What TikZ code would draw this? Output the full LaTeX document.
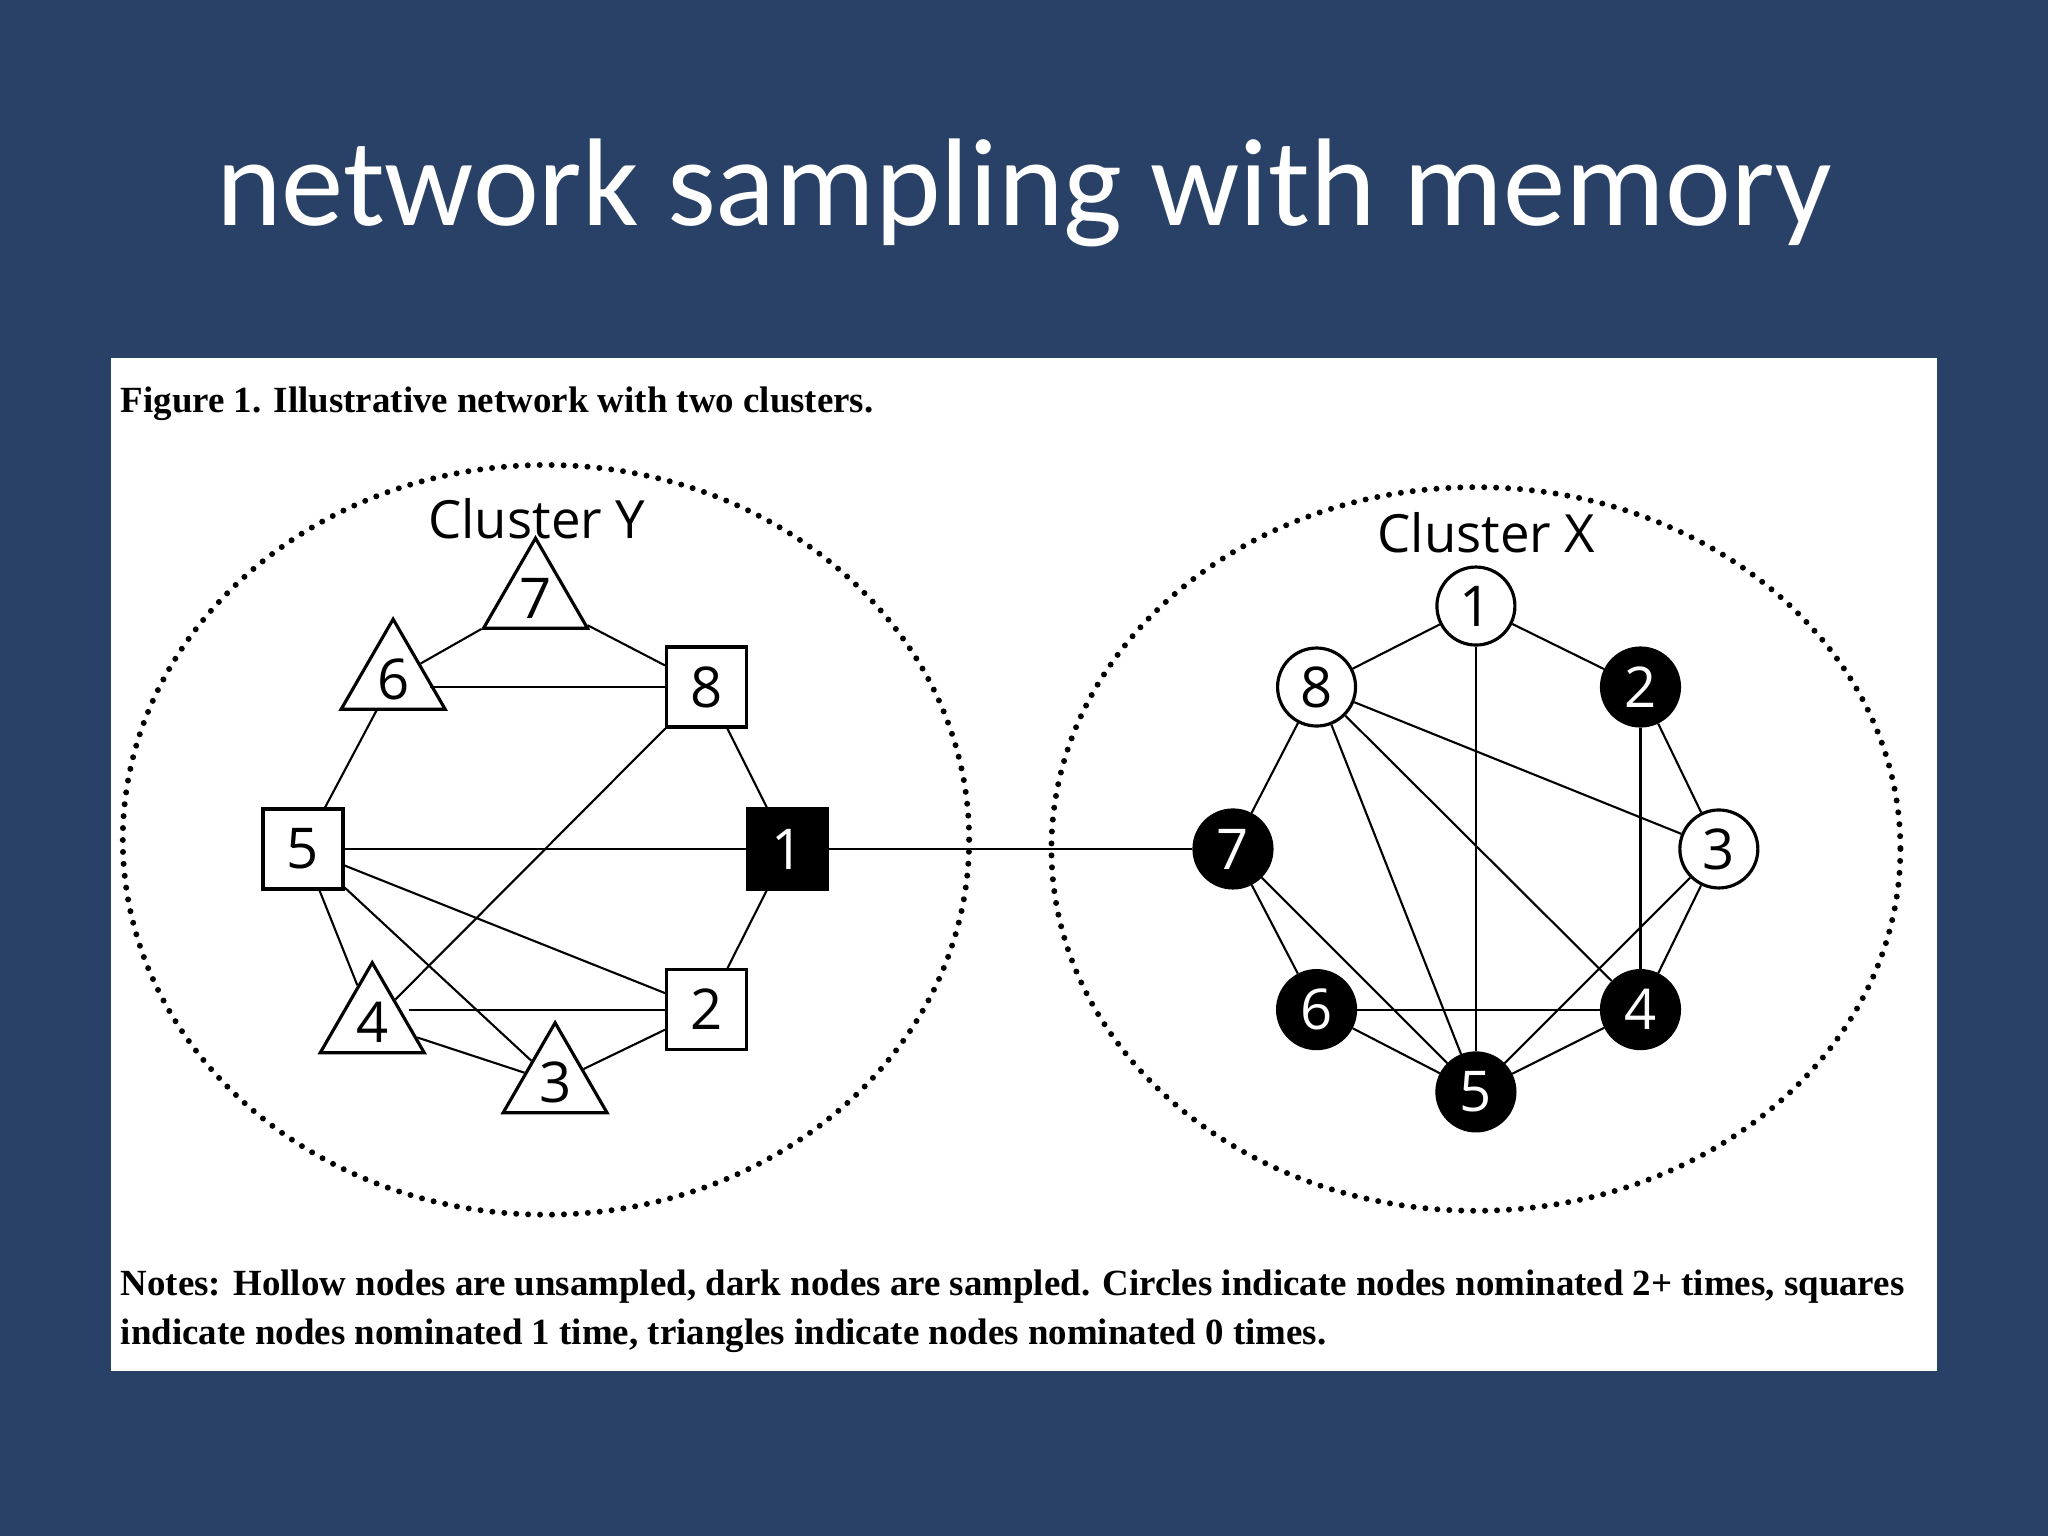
\documentclass[tikz,border=0pt]{standalone}
\usepackage{fontspec}
\setmainfont{Liberation Serif}
\newfontfamily\slidefont{Carlito}
\newfontfamily\labfont{Open Sans}
\usetikzlibrary{shapes.geometric}
\definecolor{slidebg}{RGB}{41,65,102}
\tikzset{
  lab/.style={font=\labfont\fontsize{16}{16}\selectfont, inner sep=0pt},
  tri/.style={lab, draw, line width=0.9pt, regular polygon, regular polygon sides=3, minimum size=1.2cm},
  sq/.style={lab, draw, line width=0.9pt, rectangle, minimum size=0.8cm},
  circ/.style={lab, draw, line width=0.9pt, circle, minimum size=0.78cm},
  dark/.style={fill=black, text=white},
  hollow/.style={fill=white},
  edge/.style={line width=0.6pt},
  cluster/.style={line width=1.7pt, dash pattern=on 0pt off 3.4pt, line cap=round}
}
\begin{document}
\begin{tikzpicture}[x=0.013061cm, y=-0.013061cm]
  \fill[slidebg] (0,0) rectangle (1568,1176);
  \useasboundingbox (0,0) rectangle (1568,1176);
  \node[text=white, font=\slidefont\fontsize{35.5}{36}\selectfont] (title) at (784,148) {network sampling with memory};
  \fill[white] (85,274) rectangle (1483,1050);
  \node[anchor=west, font=\bfseries\fontsize{10.5}{12}\selectfont, inner sep=0pt] (cap) at (92,309) {Figure 1. Illustrative network with two clusters.};
  \node[anchor=north west, align=left, font=\bfseries\fontsize{10.5}{13.8}\selectfont, inner sep=0pt] (notes) at (92,972)
    {Notes: Hollow nodes are unsampled, dark nodes are sampled. Circles indicate nodes nominated 2+ times, squares\\indicate nodes nominated 1 time, triangles indicate nodes nominated 0 times.};

  % clusters
  \draw[cluster] (418,643) ellipse [x radius=324, y radius=287];
  \draw[cluster] (1130,650) ellipse [x radius=325, y radius=277];
  \node[lab, font=\labfont\fontsize{15}{15}\selectfont] (ly) at (411,397) {Cluster Y};
  \node[lab, font=\labfont\fontsize{15}{15}\selectfont] (lx) at (1138,408) {Cluster X};

  % cluster Y nodes
  \node[tri, hollow] (y7) at (410,458) {7};
  \node[tri, hollow] (y6) at (301,520) {6};
  \node[sq, hollow] (y8) at (541,526) {8};
  \node[sq, hollow] (y5) at (232,650) {5};
  \node[sq, dark] (y1) at (603,650) {1};
  \node[sq, hollow] (y2) at (541,773) {2};
  \node[tri, hollow] (y4) at (285,783) {4};
  \node[tri, hollow] (y3) at (425,829) {3};

  % cluster X nodes
  \node[circ, hollow] (x1) at (1130,464) {1};
  \node[circ, hollow] (x8) at (1008,526) {8};
  \node[circ, dark] (x2) at (1256,526) {2};
  \node[circ, dark] (x7) at (944,650) {7};
  \node[circ, hollow] (x3) at (1316,650) {3};
  \node[circ, dark] (x6) at (1008,773) {6};
  \node[circ, dark] (x4) at (1256,773) {4};
  \node[circ, dark] (x5) at (1130,836) {5};

  % edges
  \draw[edge] (y6.east |- y8) -- (y8);
  \draw[edge] (y4.east |- y2) -- (y2);
  \foreach \a/\b in {y7/y6, y7/y8, y6/y5, y8/y1, y8/y4, y5/y1, y5/y2, y5/y3, y5/y4, y1/y2, y4/y3, y3/y2, y1/x7,
    x1/x8, x1/x2, x1/x5, x8/x7, x8/x3, x8/x5, x8/x4, x2/x3, x2/x4, x3/x4, x3/x5, x7/x5, x7/x6, x6/x5, x6/x4, x5/x4}
    \draw[edge] (\a) -- (\b);
\end{tikzpicture}
\end{document}
